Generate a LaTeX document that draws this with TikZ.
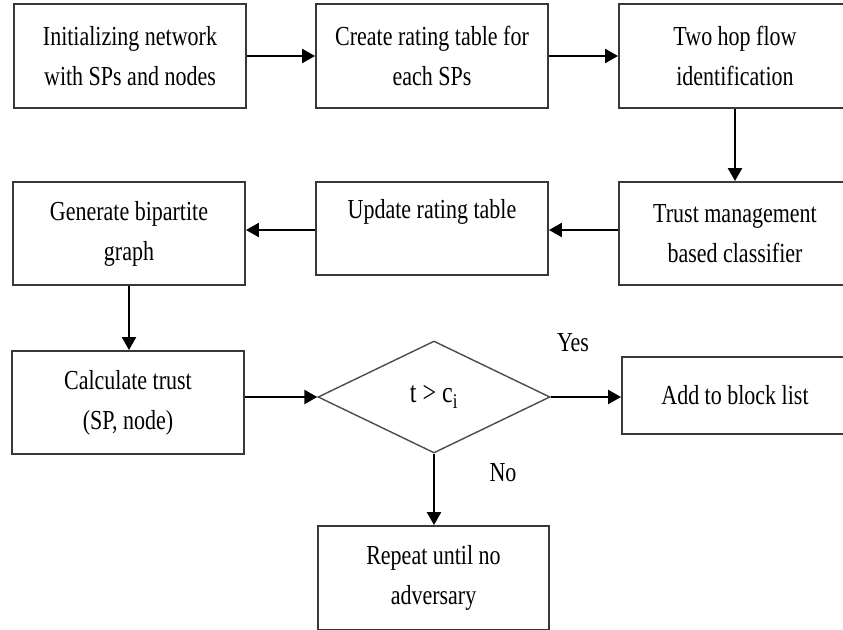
\documentclass[tikz,border=0pt]{standalone}
\usepackage{fontspec}
\setmainfont[FakeStretch=0.8]{Liberation Serif}
\usetikzlibrary{arrows.meta,shapes.geometric,calc}
\begin{document}
\begin{tikzpicture}[x=1pt,y=-1pt,
  box/.style={draw=black!78,line width=1.9pt,rectangle,inner sep=0pt,minimum width=232pt,
    align=center,font=\fontsize{27.5}{40}\selectfont},
  dec/.style={draw=black!70,line width=1.4pt,diamond,aspect=2,inner sep=0pt,
    minimum width=232pt,minimum height=112pt,font=\fontsize{30}{40}\selectfont},
  arr/.style={line width=2.4pt,-{Triangle[length=13pt,width=14pt]}},
  lbl/.style={font=\fontsize{27.5}{40}\selectfont,inner sep=0pt}]
\fill[white] (0,0) rectangle (843,629);
\useasboundingbox (0,0) rectangle (843,629);
\clip (0,0) rectangle (843,629);
\node[box,minimum height=104pt] (b1) at (130,56) {Initializing network\\with SPs and nodes};
\node[box,minimum height=104pt] (b2) at (432,56) {Create rating table for\\each SPs};
\node[box,minimum height=104pt] (b3) at (735,56) {Two hop flow\\identification};
\node[box,minimum height=103pt] (b4) at (129,233.5) {Generate bipartite\\graph};
\node[box,minimum height=93pt] (b5) at (432,228.5) {Update rating table\\\mbox{}};
\node[box,minimum height=103pt] (b6) at (735,233.5) {Trust management\\based classifier};
\node[box,minimum height=103pt] (b7) at (128,402.5) {Calculate trust\\(SP, node)};
\node[dec] (d) at (434,397) {t > c\textsubscript{i}};
\node[box,minimum width=226pt,minimum height=77pt] (b8) at (735,395.5) {Add to block list};
\node[box,minimum width=231pt,minimum height=104pt] (b9) at (433.5,578) {Repeat until no\\adversary};
\node[lbl] (yes) at (573,343) {Yes};
\node[lbl] (no) at (503,473) {No};
\coordinate (m) at ($(b6.west)+(0,-3.5)$);
\draw[arr] (b1.east) -- (b2.west);
\draw[arr] (b2.east) -- (b3.west);
\draw[arr] (b3.south) -- (b6.north);
\draw[arr] (m) -- (m -| b5.east);
\draw[arr] (m -| b5.west) -- (m -| b4.east);
\draw[arr] (b4.south) -- (b4.south |- b7.north);
\draw[arr] (d.west -| b7.east) -- (d.west);
\draw[arr] (d.east) -- (d.east -| b8.west);
\draw[arr] (d.south) -- (d.south |- b9.north);
\end{tikzpicture}
\end{document}
